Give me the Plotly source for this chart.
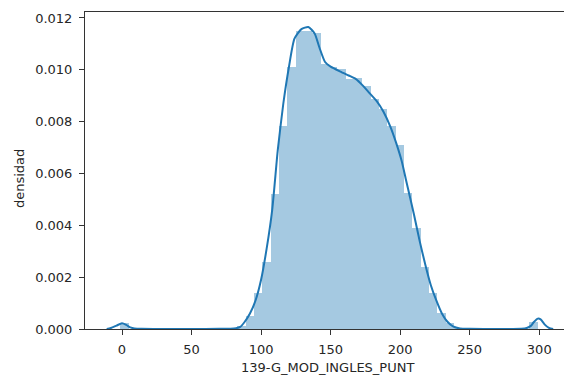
import plotly.graph_objects as go

# Histogram of 139-G_MOD_INGLES_PUNT: 50 equal-width bins
bin_start = -1.2
bin_width = 6.0
densities = [
    0.00022, 0.0, 0.0, 0.0, 0.0, 0.0, 0.0, 0.0, 0.0, 0.0,
    0.0, 0.0, 0.0, 0.0, 0.0001, 0.0005, 0.00137, 0.0026, 0.0052, 0.00785,
    0.0101, 0.0115, 0.0115, 0.01142, 0.01022, 0.0101, 0.01005, 0.00966, 0.0097, 0.00938,
    0.00887, 0.0085, 0.00785, 0.00708, 0.00523, 0.0039, 0.0024, 0.00137, 0.0006, 0.00022,
    0.00005, 0.0, 0.0, 0.0, 0.0, 0.0, 0.0, 0.0, 0.0, 0.00026,
]

# Kernel density estimate, sampled along the score axis
kde_x = [-11, -8, -4, 0, 3, 6, 9, 14, 30, 50, 70, 78, 82, 85, 88, 92, 96, 100,
         104, 108, 112, 116, 120, 124, 129, 134, 138.5, 142, 146, 150,
         157, 163, 168, 173, 178, 183, 188, 193, 197, 201, 204, 207, 210, 214,
         218, 222, 226, 230, 234, 238, 243, 250, 270, 287, 291, 294, 296, 299,
         301, 304, 307, 310]
kde_y = [0.0, 0.00004, 0.00013, 0.00022, 0.00016, 0.00006, 0.00002, 0.000005,
         0.000003, 0.000003, 0.000005, 0.00001, 0.00003, 0.00008, 0.00026, 0.0006,
         0.0011, 0.0019, 0.0031, 0.0046, 0.0069, 0.0087, 0.0101, 0.0112, 0.01157,
         0.01165, 0.0114, 0.01085, 0.0103, 0.01012, 0.00993, 0.00978,
         0.00965, 0.0094, 0.0091, 0.0088, 0.00838, 0.0078, 0.0072, 0.0065, 0.0058,
         0.0051, 0.0044, 0.0034, 0.0025, 0.0017, 0.0011, 0.0006, 0.00028, 0.0001,
         0.00002, 0.000005, 0.000003, 0.00001, 0.00004, 0.00012, 0.00026, 0.0004,
         0.00037, 0.00017, 0.00004, 0.0]

x_ticks = [0, 50, 100, 150, 200, 250, 300]
y_ticks = [0.0, 0.002, 0.004, 0.006, 0.008, 0.010, 0.012]
x_label = "139-G_MOD_INGLES_PUNT"
y_label = "densidad"

blue = "#1f77b4"
font = "DejaVu Sans"

fig = go.Figure()
fig.add_trace(go.Bar(
    x=[bin_start + bin_width * i for i in range(len(densities))],
    y=densities,
    width=bin_width,
    offset=0,
    marker=dict(color="rgba(31,119,180,0.4)", line=dict(width=0)),
    hoverinfo="skip",
))
fig.add_trace(go.Scatter(
    x=kde_x, y=kde_y, mode="lines",
    line=dict(color=blue, width=2, shape="spline", smoothing=0.6),
    hoverinfo="skip",
))

axis_common = dict(
    showgrid=False, zeroline=False, showline=True, linecolor="#333333",
    linewidth=1, ticks="outside", ticklen=5, tickwidth=1, tickcolor="#333333",
    tickfont=dict(family=font, size=13, color="#262626"),
)

fig.update_layout(
    width=564, height=379,
    margin=dict(l=85, r=0, t=12, b=50),
    paper_bgcolor="white", plot_bgcolor="white",
    showlegend=False, bargap=0,
    xaxis=dict(range=[-26.6, 317.8], tickvals=x_ticks, mirror=True,
               ticklabelstandoff=3, **axis_common),
    yaxis=dict(range=[0, 0.01223], tickvals=y_ticks, tickformat=".3f",
               ticklabelstandoff=4, **axis_common),
    annotations=[
        dict(text=x_label, xref="paper", yref="paper", x=0.507, y=-0.123,
             xanchor="center", yanchor="middle", showarrow=False,
             font=dict(family=font, size=13, color="#262626")),
        dict(text=y_label, xref="paper", yref="paper", x=-0.138, y=0.476,
             xanchor="center", yanchor="middle", showarrow=False, textangle=-90,
             font=dict(family=font, size=13, color="#262626")),
    ],
)

fig.write_html("out.html")
